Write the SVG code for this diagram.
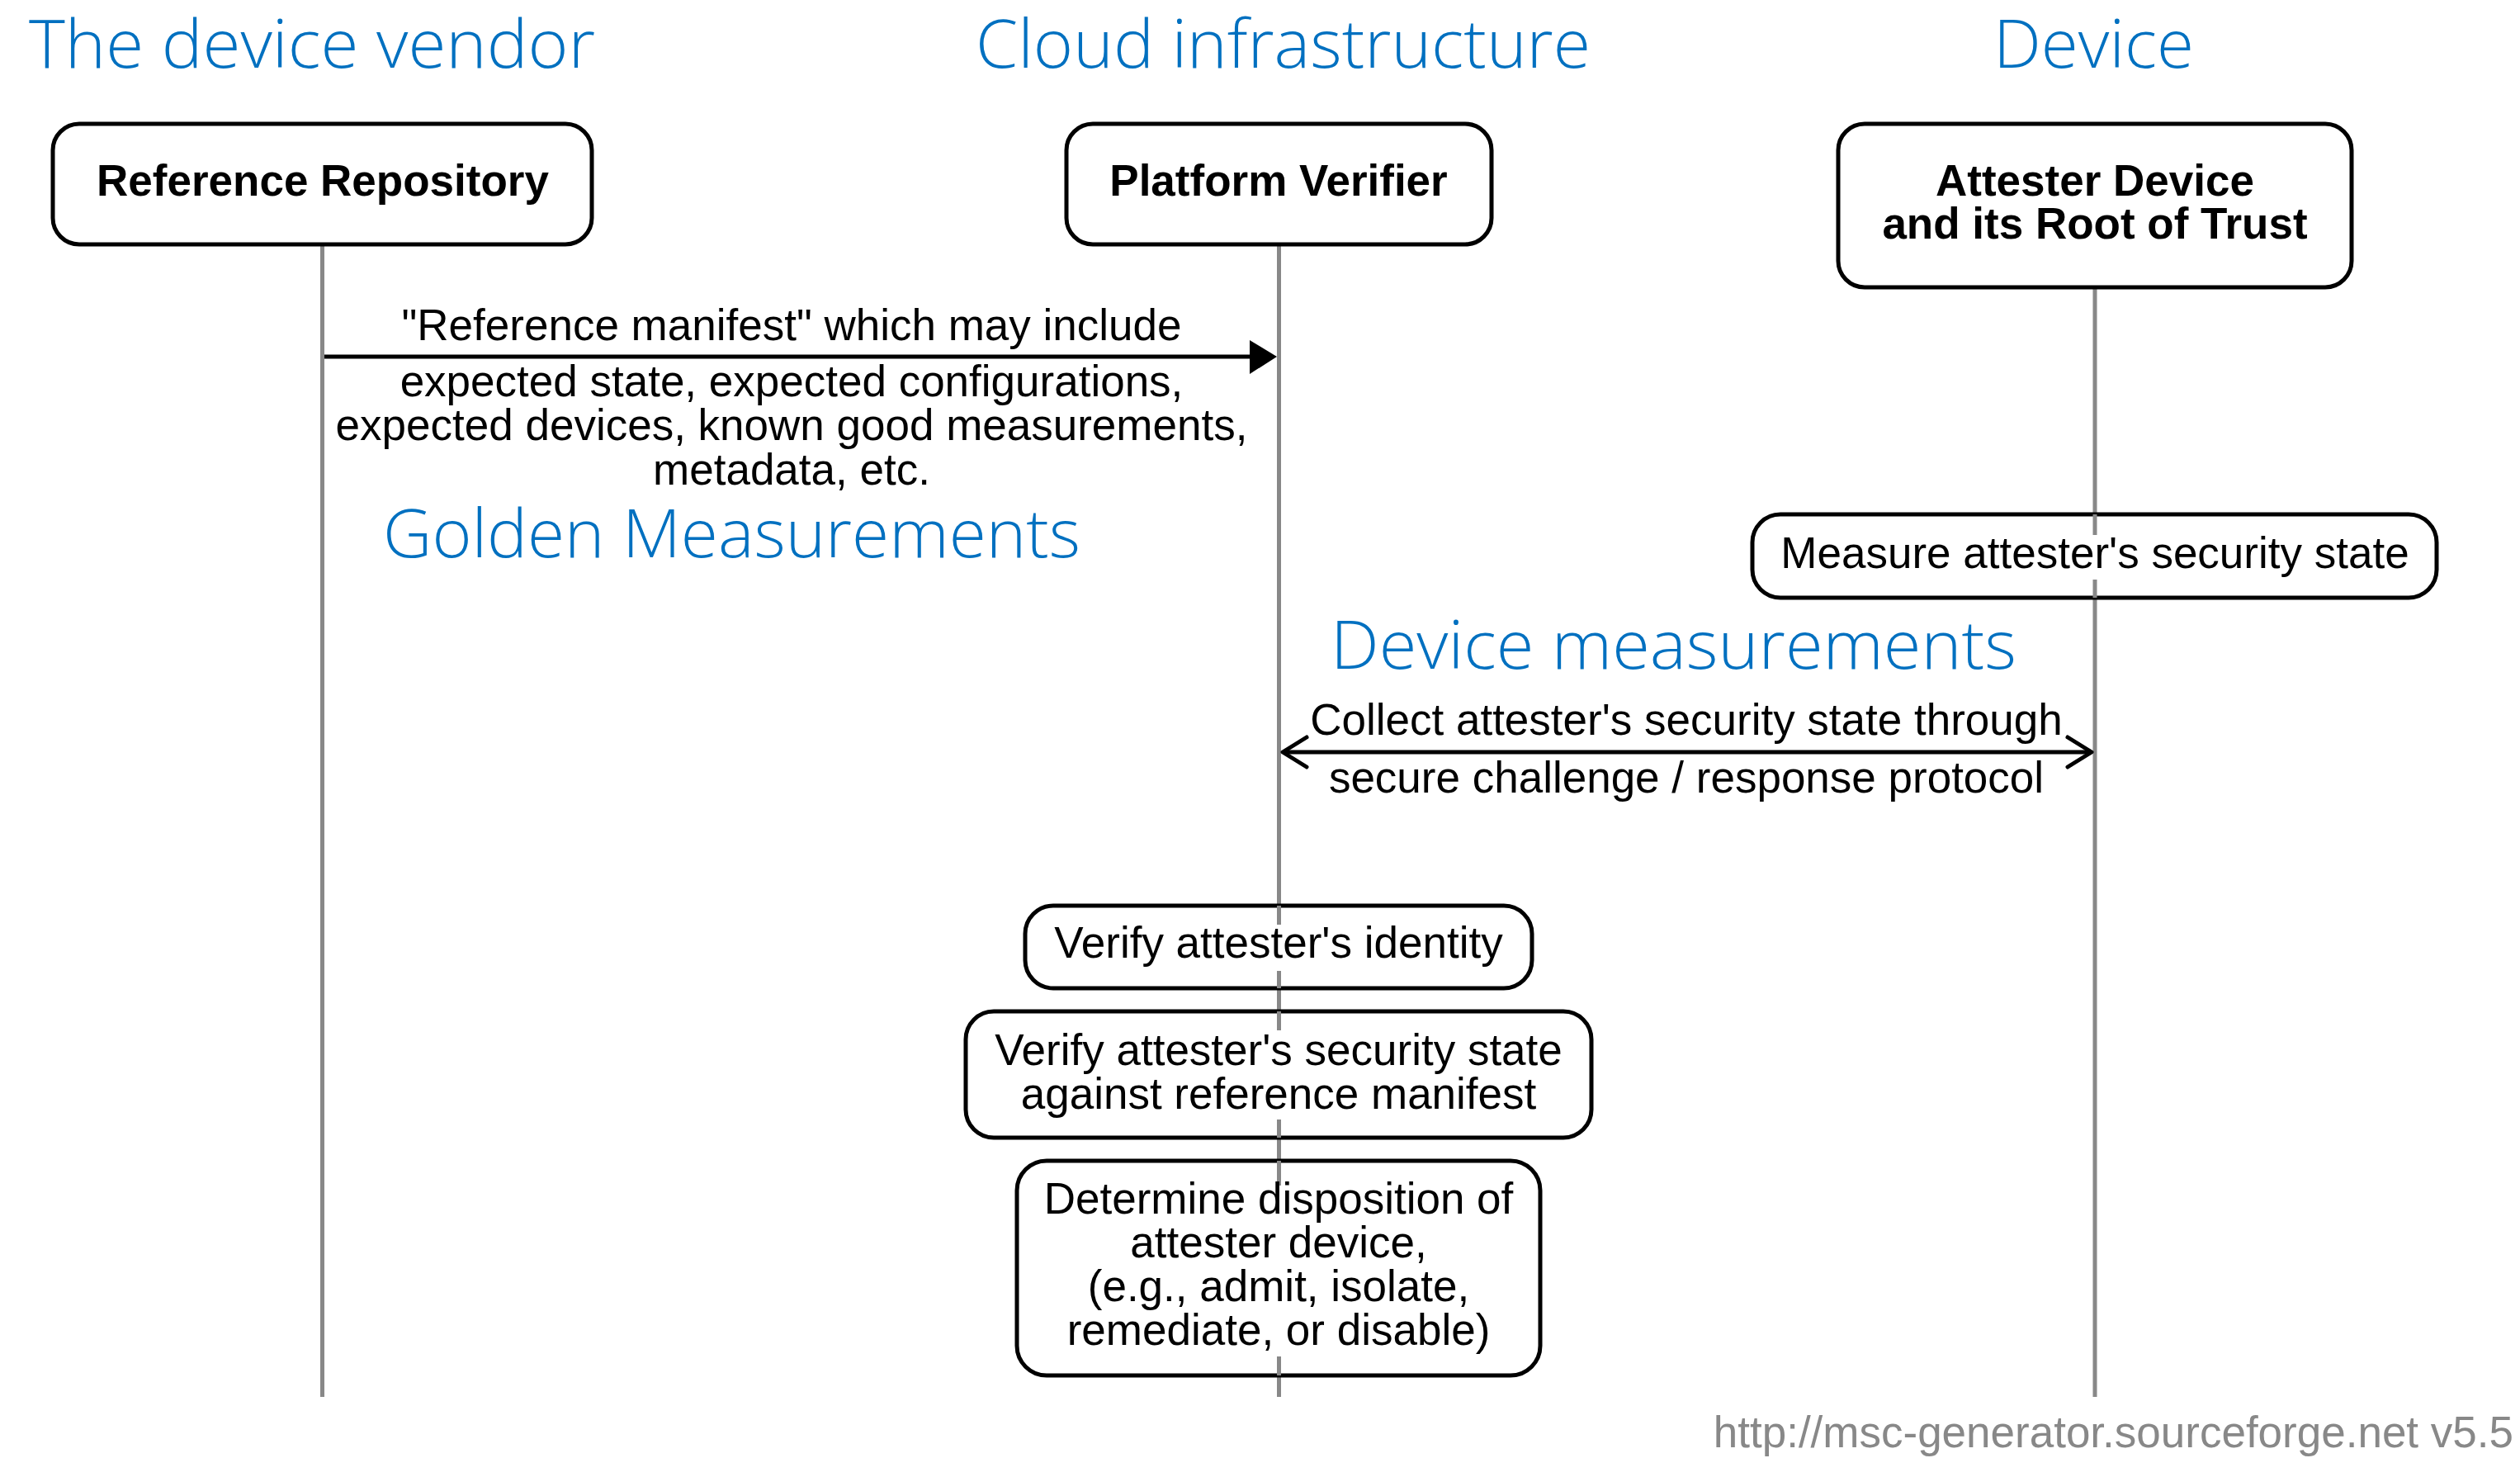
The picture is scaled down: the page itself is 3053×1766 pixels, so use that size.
<svg xmlns="http://www.w3.org/2000/svg" width="3053" height="1766" viewBox="0 0 3053 1766">
  <defs>
    <style>
      .title { font-family: "Open Sans", "Noto Sans", sans-serif; font-weight: 300; font-size: 82px; fill: #0070C0; }
      .ent { font-family: "Liberation Sans", Arial, sans-serif; font-weight: bold; font-size: 53px; fill: #000; text-anchor: middle; }
      .lbl { font-family: "Liberation Sans", Arial, sans-serif; font-size: 53px; fill: #000; text-anchor: middle; }
      .box { fill: #fff; stroke: #000; stroke-width: 5; }
      .life { stroke: #888; stroke-width: 5; fill: none; }
      .bg { fill: #fff; stroke: none; }
      .msg { stroke: #000; stroke-width: 5; fill: none; }
      .head { stroke: #000; stroke-width: 5; fill: none; stroke-linecap: round; stroke-linejoin: round; }
      .foot { font-family: "Liberation Sans", Arial, sans-serif; font-size: 53px; fill: #888; text-anchor: end; }
    </style>
  </defs>
  <rect width="3053" height="1766" fill="#fff"/>

  <!-- section headings -->
  <g id="headings">
    <text class="title" x="35" y="82" textLength="686" lengthAdjust="spacingAndGlyphs">The device vendor</text>
    <text class="title" x="1182" y="82" textLength="745" lengthAdjust="spacingAndGlyphs">Cloud infrastructure</text>
    <text class="title" x="2415" y="82" textLength="243" lengthAdjust="spacingAndGlyphs">Device</text>
    <text class="title" x="464" y="675" textLength="845" lengthAdjust="spacingAndGlyphs">Golden Measurements</text>
    <text class="title" x="1612" y="810" textLength="831" lengthAdjust="spacingAndGlyphs">Device measurements</text>
  </g>

  <!-- lifelines -->
  <g id="lifelines">
    <line class="life" x1="390.5" y1="296" x2="390.5" y2="1692"/>
    <line class="life" x1="1549.5" y1="296" x2="1549.5" y2="1692"/>
    <line class="life" x1="2538" y1="348" x2="2538" y2="1692"/>
  </g>

  <!-- entities -->
  <g id="reference-repository">
    <rect class="box" x="64" y="150" width="653" height="146" rx="32"/>
    <text class="ent" x="391" y="237">Reference Repository</text>
  </g>
  <g id="platform-verifier">
    <rect class="box" x="1292" y="150" width="515" height="146" rx="32"/>
    <text class="ent" x="1549" y="237">Platform Verifier</text>
  </g>
  <g id="attester-device">
    <rect class="box" x="2227" y="150" width="622" height="198" rx="32"/>
    <text class="ent" x="2538" y="237">Attester Device</text>
    <text class="ent" x="2538" y="289">and its Root of Trust</text>
  </g>

  <!-- messages -->
  <g id="connectors">
    <g id="msg-reference-manifest">
      <line class="msg" x1="393" y1="432" x2="1518" y2="432"/>
      <polygon points="1514,412 1547,432 1514,453" fill="#000"/>
      <text class="lbl" x="959" y="412">"Reference manifest" which may include</text>
      <text class="lbl" x="959" y="480">expected state, expected configurations,</text>
      <text class="lbl" x="959" y="533">expected devices, known good measurements,</text>
      <text class="lbl" x="959" y="587">metadata, etc.</text>
    </g>
    <g id="msg-collect-state">
      <line class="msg" x1="1554" y1="911" x2="2534" y2="911"/>
      <polyline class="head" points="1583,893 1554,911 1583,929"/>
      <polyline class="head" points="2505,893 2534,911 2505,929"/>
      <text class="lbl" x="2043" y="890">Collect attester's security state through</text>
      <text class="lbl" x="2043" y="960">secure challenge / response protocol</text>
    </g>
  </g>

  <!-- notes on lifelines -->
  <g id="note-measure">
    <rect class="box" x="2123" y="623" width="829" height="101" rx="34"/>
    <line class="life" x1="2538" y1="623" x2="2538" y2="724"/>
    <rect class="bg" x="2152" y="648" width="774" height="54"/>
    <text class="lbl" x="2538" y="688">Measure attester's security state</text>
  </g>
  <g id="note-verify-identity">
    <rect class="box" x="1242" y="1097" width="614" height="100" rx="34"/>
    <line class="life" x1="1549.5" y1="1097" x2="1549.5" y2="1197"/>
    <rect class="bg" x="1268" y="1120" width="562" height="56"/>
    <text class="lbl" x="1549" y="1160">Verify attester's identity</text>
  </g>
  <g id="note-verify-state">
    <rect class="box" x="1170" y="1225" width="758" height="153" rx="34"/>
    <line class="life" x1="1549.5" y1="1225" x2="1549.5" y2="1378"/>
    <rect class="bg" x="1190" y="1248" width="718" height="108"/>
    <text class="lbl" x="1549" y="1290">Verify attester's security state</text>
    <text class="lbl" x="1549" y="1343">against reference manifest</text>
  </g>
  <g id="note-disposition">
    <rect class="box" x="1232" y="1406" width="634" height="260" rx="36"/>
    <line class="life" x1="1549.5" y1="1406" x2="1549.5" y2="1666"/>
    <rect class="bg" x="1252" y="1436" width="594" height="207"/>
    <text class="lbl" x="1549" y="1470">Determine disposition of</text>
    <text class="lbl" x="1549" y="1523">attester device,</text>
    <text class="lbl" x="1549" y="1576">(e.g., admit, isolate,</text>
    <text class="lbl" x="1549" y="1629">remediate, or disable)</text>
  </g>

  <text class="foot" x="3045" y="1753">http://msc-generator.sourceforge.net v5.5</text>
</svg>
